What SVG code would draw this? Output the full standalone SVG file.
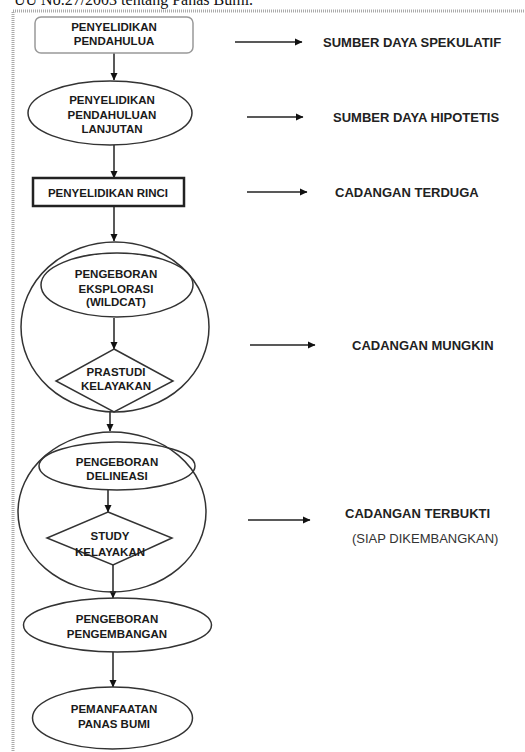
<svg xmlns="http://www.w3.org/2000/svg" width="525" height="752" viewBox="0 0 525 752">
<style>
  .t { font-family: "Liberation Sans", Arial, sans-serif; font-weight: bold; font-size: 11.5px; fill: #1a1a1a; text-anchor: middle; }
  .lab { font-family: "Liberation Sans", Arial, sans-serif; font-weight: bold; font-size: 13px; fill: #222; }
  .sub { font-family: "Liberation Sans", Arial, sans-serif; font-size: 13px; fill: #333; }
  .s { fill: #fff; stroke: #333; stroke-width: 1.5; }
  .o { fill: none; stroke: #333; stroke-width: 1.5; }
  .c { fill: none; stroke: #222; stroke-width: 1.5; marker-end: url(#ah); }
</style>
<defs>
  <marker id="ah" markerWidth="8" markerHeight="8" refX="7" refY="4" orient="auto" markerUnits="userSpaceOnUse">
    <path d="M0,0.5 L7.5,4 L0,7.5 Z" fill="#111"/>
  </marker>
</defs>
<rect width="525" height="752" fill="#fff"/>
<text x="14" y="5" font-family="'Liberation Serif', 'Times New Roman', serif" font-size="16" fill="#111">UU No.27/2003 tentang Panas Bumi.</text>
<rect x="13" y="11" width="600" height="800" fill="none" stroke="#aaa" stroke-width="3" stroke-dasharray="1 1"/>

<g id="connectors">
  <line class="c" x1="114" y1="53" x2="114" y2="80"/>
  <line class="c" x1="114" y1="145" x2="114" y2="178"/>
  <line class="c" x1="114" y1="206" x2="114" y2="241"/>
  <line class="c" x1="114" y1="318" x2="114" y2="349"/>
  <line class="c" x1="110" y1="412" x2="110" y2="431"/>
  <line class="c" x1="108" y1="490" x2="108" y2="512"/>
  <line class="c" x1="113" y1="565" x2="113" y2="598"/>
  <line class="c" x1="113" y1="652" x2="113" y2="687"/>
  <line class="c" x1="235" y1="42" x2="302" y2="42"/>
  <line class="c" x1="247" y1="117" x2="303" y2="117"/>
  <line class="c" x1="247" y1="192" x2="307" y2="192"/>
  <line class="c" x1="250" y1="345" x2="315" y2="345"/>
  <line class="c" x1="248" y1="520" x2="310" y2="520"/>
</g>

<g id="n1">
  <rect x="35" y="17" width="158" height="36" rx="6" fill="#fff" stroke="#999" stroke-width="1.5"/>
  <text class="t" x="114" y="31">PENYELIDIKAN</text>
  <text class="t" x="114" y="45">PENDAHULUA</text>
</g>
<g id="n2">
  <ellipse class="s" cx="110" cy="113" rx="82" ry="32"/>
  <text class="t" x="112" y="104">PENYELIDIKAN</text>
  <text class="t" x="112" y="119">PENDAHULUAN</text>
  <text class="t" x="112" y="133">LANJUTAN</text>
</g>
<g id="n3">
  <rect x="33" y="178" width="151" height="28" fill="#fff" stroke="#222" stroke-width="2.5"/>
  <text class="t" x="108" y="197">PENYELIDIKAN RINCI</text>
</g>
<g id="n4">
  <ellipse class="o" cx="115" cy="327" rx="94" ry="85"/>
  <ellipse class="o" cx="117" cy="285" rx="76" ry="32"/>
  <text class="t" x="116" y="278">PENGEBORAN</text>
  <text class="t" x="116" y="293">EKSPLORASI</text>
  <text class="t" x="116" y="306">(WILDCAT)</text>
</g>
<g id="n5">
  <polygon class="o" points="114,349 173,381 114,412 56,381"/>
  <text class="t" x="116" y="376">PRASTUDI</text>
  <text class="t" x="116" y="390">KELAYAKAN</text>
</g>
<g id="n6">
  <ellipse class="o" cx="112" cy="512" rx="94" ry="80"/>
  <ellipse class="o" cx="117" cy="466" rx="78" ry="24"/>
  <text class="t" x="117" y="466">PENGEBORAN</text>
  <text class="t" x="117" y="480">DELINEASI</text>
</g>
<g id="n7">
  <polygon class="o" points="108,512 172,538 113,565 47,538"/>
  <text class="t" x="110" y="540">STUDY</text>
  <text class="t" x="110" y="556">KELAYAKAN</text>
</g>
<g id="n8">
  <ellipse class="s" cx="117.5" cy="625" rx="94" ry="27"/>
  <text class="t" x="117" y="623">PENGEBORAN</text>
  <text class="t" x="117" y="638">PENGEMBANGAN</text>
</g>
<g id="n9">
  <ellipse class="s" cx="112.5" cy="718" rx="80" ry="31"/>
  <text class="t" x="114" y="713">PEMANFAATAN</text>
  <text class="t" x="114" y="728">PANAS BUMI</text>
</g>

<g id="labels">
  <text class="lab" x="323" y="47">SUMBER DAYA SPEKULATIF</text>
  <text class="lab" x="333" y="122">SUMBER DAYA HIPOTETIS</text>
  <text class="lab" x="335" y="197">CADANGAN TERDUGA</text>
  <text class="lab" x="352" y="350">CADANGAN MUNGKIN</text>
  <text class="lab" x="345" y="518">CADANGAN TERBUKTI</text>
  <text class="sub" x="352" y="543">(SIAP DIKEMBANGKAN)</text>
</g>
</svg>
